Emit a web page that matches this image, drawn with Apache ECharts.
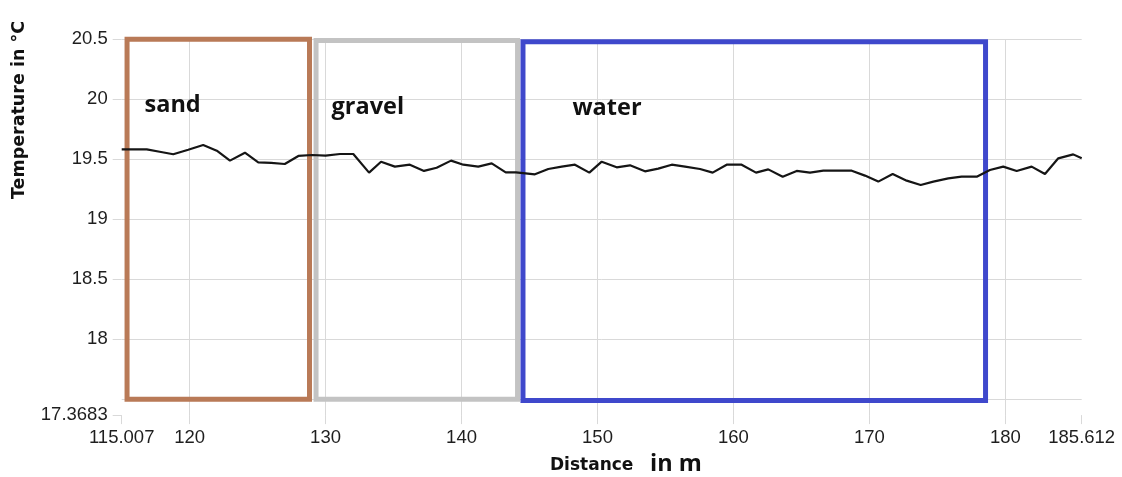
<!DOCTYPE html>
<html>
<head>
<meta charset="utf-8">
<style>
  html, body { margin: 0; padding: 0; background: #ffffff; }
  #chart { width: 1122px; height: 477px; }
</style>
<script src="https://cdn.jsdelivr.net/npm/echarts@6/dist/echarts.min.js"></script>
</head>
<body>
<div id="chart"></div>
<script>
// Temperature profile along the measured distance (m, °C)
const distance = [
  115.007, 116.0, 116.85, 117.8, 118.8, 119.9, 121.0, 122.0, 122.97, 124.07,
  125.05, 126.0, 127.0, 128.0, 129.0, 130.0, 131.06, 132.04, 133.2, 134.08,
  135.1, 136.2, 137.24, 138.17, 139.23, 140.13, 141.23, 142.22, 143.25, 144.0,
  145.4, 146.38, 147.37, 148.34, 149.4, 150.31, 151.41, 152.39, 153.49, 154.47,
  155.46, 156.44, 157.54, 158.47, 159.5, 160.6, 161.66, 162.56, 163.62, 164.65,
  165.63, 166.61, 167.59, 168.7, 169.67, 170.65, 171.71, 172.74, 173.77, 174.7,
  175.8, 176.78, 177.89, 178.86, 179.84, 180.83, 181.93, 182.91, 183.89, 184.99,
  185.612
];
const temperature = [
  19.583, 19.583, 19.583, 19.563, 19.542, 19.580, 19.619, 19.572, 19.489, 19.555,
  19.475, 19.470, 19.461, 19.528, 19.536, 19.530, 19.544, 19.544, 19.389, 19.480,
  19.439, 19.455, 19.403, 19.430, 19.489, 19.455, 19.439, 19.466, 19.391, 19.391,
  19.375, 19.419, 19.439, 19.455, 19.389, 19.480, 19.433, 19.450, 19.400, 19.422,
  19.455, 19.439, 19.419, 19.389, 19.455, 19.455, 19.389, 19.416, 19.355, 19.403,
  19.389, 19.405, 19.405, 19.405, 19.364, 19.314, 19.378, 19.322, 19.286, 19.314,
  19.341, 19.355, 19.355, 19.411, 19.439, 19.403, 19.439, 19.378, 19.508, 19.541,
  19.508
];

// Axis ticks
const xTicks = [115.007, 120, 130, 140, 150, 160, 170, 180, 185.612];
const yTicks = [17.3683, 17.5, 18, 18.5, 19, 19.5, 20, 20.5];

// Ground-type zones along the profile
const zoneNames  = ['sand', 'gravel', 'water'];
const zoneStart  = [115.4, 129.3, 144.52];
const zoneEnd    = [128.82, 144.12, 178.54];
const zoneTop    = [20.5, 20.49, 20.48];
const zoneBottom = [17.5, 17.5, 17.49];
const zoneColors = ['#b97a57', '#c3c3c3', '#3f48cc'];
const zoneLabelShift = [20, 18, 52];

const chart = echarts.init(document.getElementById('chart'), null, { renderer: 'canvas' });

const gridGray = '#d9d9d9';
const labelFont = { fontFamily: '"Liberation Sans", Arial, sans-serif', fontSize: 18.5, color: '#1e1e1e' };

const zoneAreas = zoneNames.map((name, i) => [
  {
    name: name,
    xAxis: zoneStart[i],
    yAxis: zoneTop[i],
    itemStyle: { color: 'rgba(0,0,0,0)', borderColor: zoneColors[i], borderWidth: 5 },
    label: {
      show: true,
      position: [zoneLabelShift[i], 69],
      verticalAlign: 'middle',
      align: 'left',
      color: '#111111',
      fontFamily: '"Open Sans", sans-serif',
      fontWeight: 'bold',
      fontSize: 23.5
    }
  },
  { xAxis: zoneEnd[i], yAxis: zoneBottom[i] }
]);

chart.setOption({
  animation: false,
  backgroundColor: '#ffffff',
  grid: { left: 121.7, right: 40.3, top: 39.3, bottom: 61.9, containLabel: false },
  xAxis: {
    type: 'value',
    min: xTicks[0],
    max: xTicks[xTicks.length - 1],
    axisLine: { show: false },
    axisTick: { show: true, length: 9, customValues: xTicks, lineStyle: { color: gridGray, width: 1 } },
    axisLabel: Object.assign({ margin: 13, customValues: xTicks, showMinLabel: true, showMaxLabel: true, hideOverlap: false }, labelFont),
    splitLine: { show: true, showMinLine: false, showMaxLine: false, lineStyle: { color: gridGray, width: 1 } }
  },
  yAxis: {
    type: 'value',
    min: yTicks[0],
    max: yTicks[yTicks.length - 1],
    axisLine: { show: false },
    axisTick: { show: true, length: 9, customValues: yTicks, lineStyle: { color: gridGray, width: 1 } },
    axisLabel: Object.assign({ margin: 14, customValues: yTicks, showMinLabel: true, showMaxLabel: true, hideOverlap: false }, labelFont),
    splitLine: { show: true, showMinLine: false, showMaxLine: true, lineStyle: { color: gridGray, width: 1 } }
  },
  graphic: [
    {
      type: 'text',
      x: 19.5, y: 110,
      rotation: Math.PI / 2,
      style: {
        text: 'Temperature in °C',
        font: 'bold 17.5px "DejaVu Sans", sans-serif',
        fill: '#111111',
        align: 'center',
        verticalAlign: 'middle'
      }
    },
    {
      type: 'text',
      x: 550, y: 465.5,
      style: {
        text: 'Distance',
        font: 'bold 17px "DejaVu Sans", sans-serif',
        fill: '#111111',
        align: 'left',
        verticalAlign: 'middle'
      }
    },
    {
      type: 'text',
      x: 650, y: 464,
      style: {
        text: 'in m',
        font: 'bold 23.5px "Open Sans", sans-serif',
        fill: '#111111',
        align: 'left',
        verticalAlign: 'middle'
      }
    }
  ],
  series: [
    {
      type: 'line',
      z: 2,
      data: distance.map((d, i) => [d, temperature[i]]),
      showSymbol: false,
      lineStyle: { color: '#151515', width: 2.2 }
    },
    {
      type: 'line',
      z: 3,
      clip: false,
      data: [],
      markArea: { silent: true, data: zoneAreas }
    }
  ]
});
</script>
</body>
</html>
